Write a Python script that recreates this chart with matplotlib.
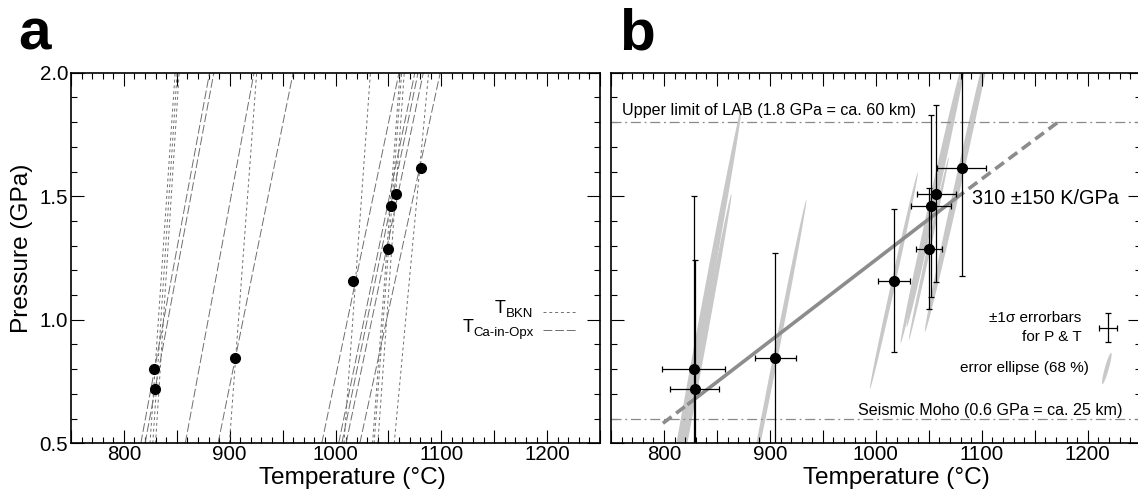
import numpy as np
import matplotlib
matplotlib.use("Agg")
import matplotlib.pyplot as plt
from matplotlib.ticker import MultipleLocator, FuncFormatter

plt.rcParams['font.family'] = ['Liberation Sans', 'DejaVu Sans']

# ---------------- data ----------------
sample_T = [828, 829, 905, 1017, 1050, 1052, 1057, 1081]          # deg C
sample_P = [0.802, 0.718, 0.845, 1.158, 1.288, 1.461, 1.511, 1.616]  # GPa
sigma_T = [30, 23, 19.5, 15, 12.5, 19, 18.5, 23]
sigma_P = [0.70, 0.524, 0.424, 0.29, 0.245, 0.368, 0.358, 0.44]
corr_TP = [0.997, 0.997, 0.997, 0.996, 0.996, 0.996, 0.996, 0.996]

# thermometer isopleths in panel a: T at P = 0.5 GPa and at P = 2.0 GPa
iso_P = [0.5, 2.0]
bkn_T_low = [824.7, 827.3, 829.9, 899.7, 1008, 1035, 1036.5, 1040, 1055.5]
bkn_T_high = [848.4, 850.3, 852.2, 925.5, 1033, 1061, 1062.5, 1065, 1088]
cao_T_low = [816, 820, 858, 889, 987, 1003, 1006, 1010, 1023]
cao_T_high = [881, 885, 923, 960, 1060, 1075, 1078, 1083, 1099]

# geotherm fit (310 K/GPa)
fit_T = [799, 822, 1075, 1172]
fit_P = [0.581, 0.656, 1.49, 1.80]
gradient_label = "310 \u00b1150 K/GPa"

lab_P = 1.8
moho_P = 0.6

# ---------------- figure ----------------
fig = plt.figure(figsize=(11.38, 4.99), dpi=100)
ax_a = fig.add_axes([71/1138, 1-443.3/499, 529/1138, 370.6/499])
ax_b = fig.add_axes([611/1138, 1-443.3/499, 529.7/1138, 370.6/499])

grey_line = '#6e6e6e'


def style_axes(ax, label_x, ylabels=True):
    ax.set_xlim(750, 1250)
    ax.set_ylim(0.5, 2.0)
    ax.xaxis.set_major_locator(MultipleLocator(50))
    ax.xaxis.set_minor_locator(MultipleLocator(10))
    ax.xaxis.set_major_formatter(FuncFormatter(
        lambda v, p: f"{int(round(v))}" if round(v) % 100 == 0 else ""))
    ax.yaxis.set_major_locator(MultipleLocator(0.5))
    ax.yaxis.set_minor_locator(MultipleLocator(0.1))
    ax.yaxis.set_major_formatter(FuncFormatter(lambda v, p: f"{v:.1f}"))
    ax.tick_params(which='both', direction='in', top=True, right=True,
                   width=0.8, labelsize=14.8)
    ax.tick_params(axis='x', pad=1)
    ax.tick_params(axis='y', pad=2)
    ax.tick_params(which='major', length=9.5)
    ax.tick_params(which='minor', length=4)
    if not ylabels:
        ax.tick_params(labelleft=False)
    for s in ax.spines.values():
        s.set_linewidth(1.2)
    ax.set_xlabel("Temperature (\u00b0C)", fontsize=17.6)
    ax.xaxis.set_label_coords(label_x, -0.063)


style_axes(ax_a, 0.531)
style_axes(ax_b, 0.539, ylabels=False)
ax_a.set_ylabel("Pressure (GPa)", fontsize=17.6)
ax_a.yaxis.set_label_coords(-0.072, 0.527)

# ---------------- panel a ----------------
for t0, t1 in zip(bkn_T_low, bkn_T_high):
    ax_a.plot([t0, t1], iso_P, color=grey_line, lw=0.7, dashes=(3, 3))
for t0, t1 in zip(cao_T_low, cao_T_high):
    ax_a.plot([t0, t1], iso_P, color=grey_line, lw=0.7, dashes=(9, 3))
ax_a.plot(sample_T, sample_P, 'o', color='black', ms=7, zorder=5)

# legend of panel a
leg_x_text = 1187
leg_line = [1196.5, 1227]
sub1 = ax_a.text(leg_x_text, 1.022, "BKN", fontsize=9.5, ha='right', va='center')
ax_a.annotate("T", xy=(0, 0.25), xycoords=sub1, ha='right', va='bottom', fontsize=13)
ax_a.plot(leg_line, [1.032, 1.032], color=grey_line, lw=0.7, dashes=(3, 3))
sub2 = ax_a.text(leg_x_text, 0.948, "Ca-in-Opx", fontsize=9.5, ha='right', va='center')
ax_a.annotate("T", xy=(0, 0.25), xycoords=sub2, ha='right', va='bottom', fontsize=13)
ax_a.plot(leg_line, [0.958, 0.958], color=grey_line, lw=0.7, dashes=(9, 3))

# ---------------- panel b ----------------
kfac = np.sqrt(-2*np.log(1-0.68))
tt = np.linspace(0, 2*np.pi, 300)
for t, p, st, sp, r in zip(sample_T, sample_P, sigma_T, sigma_P, corr_TP):
    cov = np.array([[st**2, r*st*sp], [r*st*sp, sp**2]])
    L = np.linalg.cholesky(cov)
    pts = kfac * L @ np.vstack([np.cos(tt), np.sin(tt)])
    ax_b.fill(t + pts[0], p + pts[1], color='#c8c8c8', lw=0, zorder=1)

ax_b.axhline(lab_P, color='#8a8a8a', lw=0.9, dashes=(8, 3, 1.5, 3), zorder=2)
ax_b.axhline(moho_P, color='#8a8a8a', lw=0.9, dashes=(8, 3, 1.5, 3), zorder=2)

ax_b.plot(fit_T[:2], fit_P[:2], color='#8c8c8c', lw=2.6, dashes=(3, 1.6), zorder=2)
ax_b.plot(fit_T[1:3], fit_P[1:3], color='#8c8c8c', lw=2.6, zorder=2, solid_capstyle='butt')
ax_b.plot(fit_T[2:], fit_P[2:], color='#8c8c8c', lw=2.6, dashes=(3, 1.6), zorder=2)

ax_b.errorbar(sample_T, sample_P, xerr=sigma_T, yerr=sigma_P, fmt='o', color='black',
              ms=7, elinewidth=0.9, capsize=2, capthick=0.9, zorder=4)

ax_b.text(760, 1.849, "Upper limit of LAB (1.8 GPa = ca. 60 km)", fontsize=11.6,
          ha='left', va='center')
ax_b.text(1233, 0.634, "Seismic Moho (0.6 GPa = ca. 25 km)", fontsize=11.6,
          ha='right', va='center')
ax_b.text(1229.5, 1.491, gradient_label, fontsize=14.3, ha='right', va='center')

# legend of panel b
ax_b.text(1194.3, 1.007, "\u00b11\u03c3 errorbars", fontsize=11, ha='right', va='center')
ax_b.text(1194.3, 0.931, "for P & T", fontsize=11, ha='right', va='center')
ax_b.errorbar([1219.2], [0.968], xerr=[8.5], yerr=[0.059], fmt='none', color='black',
              elinewidth=0.9, capsize=2, capthick=0.9)
ax_b.text(1201.3, 0.806, "error ellipse (68 %)", fontsize=11, ha='right', va='center')
cov = np.array([[3.0**2, 0.9*3.0*0.042], [0.9*3.0*0.042, 0.042**2]])
L = np.linalg.cholesky(cov)
pts = kfac * L @ np.vstack([np.cos(tt), np.sin(tt)])
ax_b.fill(1218 + pts[0], 0.803 + pts[1], color='#c8c8c8', lw=0)

# panel letters
fig.text(18/1138, 1-50/499, "a", fontsize=42, fontweight='bold', va='baseline')
fig.text(619/1138, 1-50/499, "b", fontsize=42, fontweight='bold', va='baseline')

fig.savefig("out.png", dpi=100)
